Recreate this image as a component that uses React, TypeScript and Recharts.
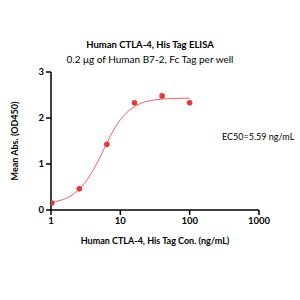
import { ComposedChart, Line, Scatter, XAxis, YAxis } from 'recharts'

// measured points (ng/mL, OD450)
const conc = [1.024, 2.56, 6.4, 16, 40, 100]
const od = [0.15, 0.46, 1.43, 2.33, 2.48, 2.33]

// fitted curve
const fitConc = [1, 1.5, 2, 2.5, 3, 4, 5, 6, 7, 8, 10, 12, 15, 20, 30, 50, 100]
const fitOd = [0.16, 0.23, 0.32, 0.44, 0.57, 0.85, 1.12, 1.37, 1.57, 1.74, 1.96, 2.1, 2.22, 2.32, 2.39, 2.42, 2.43]

const xTicks = [1, 10, 100, 1000]
const yTicks = [0, 1, 2, 3]

const points = conc.map((x, i) => ({ x, y: od[i] }))
const curve = fitConc.map((x, i) => ({ x, y: fitOd[i] }))

const font = 'Lato, "Open Sans", sans-serif'
const tickStyle = { fontSize: 9.5, fontWeight: 700, fill: '#000', fontFamily: font }

export default function App() {
  return (
    <div style={{ position: 'absolute', left: 0, top: 0, width: 300, height: 300, background: '#fff', fontFamily: font }}>
      <div style={{ position: 'absolute', top: 39, width: 300, textAlign: 'center', fontSize: 9.5, fontWeight: 700 }}>
        Human CTLA-4, His Tag ELISA
      </div>
      <div style={{ position: 'absolute', top: 53, width: 300, textAlign: 'center', fontSize: 10 }}>
        0.2 μg of Human B7-2, Fc Tag per well
      </div>
      <div style={{ position: 'absolute', top: 131, left: 222, fontSize: 9 }}>EC50=5.59 ng/mL</div>
      <ComposedChart width={300} height={300} margin={{ top: 72, right: 41, bottom: 50, left: 0 }}>
        <XAxis
          dataKey="x"
          type="number"
          scale="log"
          domain={[1, 1000]}
          ticks={xTicks}
          allowDataOverflow
          stroke="#000"
          strokeWidth={1.5}
          tickSize={5}
          tick={tickStyle}
          height={40}
          label={{ value: 'Human CTLA-4, His Tag Con. (ng/mL)', position: 'insideBottom', offset: 6, style: { ...tickStyle, fontSize: 9 } }}
        />
        <YAxis
          dataKey="y"
          type="number"
          domain={[0, 3]}
          ticks={yTicks}
          stroke="#000"
          strokeWidth={1.5}
          tickSize={5}
          tick={tickStyle}
          width={51}
          label={{ value: 'Mean Abs. (OD450)', angle: -90, position: 'insideLeft', offset: 15, style: { ...tickStyle, fontSize: 9, textAnchor: 'middle' } }}
        />
        <Line data={curve} dataKey="y" type="monotone" stroke="#e8636b" strokeWidth={1} dot={false} isAnimationActive={false} />
        <Scatter data={points} dataKey="y" fill="#e0393e" shape={(p: any) => <circle cx={p.cx} cy={p.cy} r={2.8} fill="#e0393e" />} isAnimationActive={false} />
      </ComposedChart>
    </div>
  )
}
